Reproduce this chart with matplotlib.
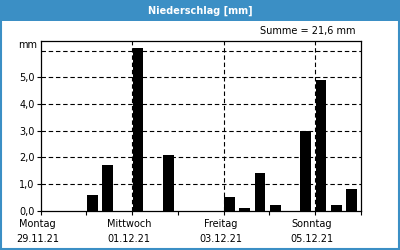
import matplotlib
matplotlib.use("Agg")
import matplotlib.pyplot as plt
from matplotlib.patches import Rectangle
import matplotlib.transforms as mtransforms

# Data: precipitation per 8-hour period (3 per day), 7 days
values = [0.0, 0.0, 0.0,   # Montag
          0.6, 1.7, 0.0,   # Dienstag
          6.1, 0.0, 2.1,   # Mittwoch
          0.0, 0.0, 0.0,   # Donnerstag
          0.5, 0.1, 1.4,   # Freitag
          0.2, 0.0, 3.0,   # Samstag
          4.9, 0.2, 0.8]   # Sonntag
day_names = ["Montag", "Mittwoch", "Freitag", "Sonntag"]
day_dates = ["29.11.21", "01.12.21", "03.12.21", "05.12.21"]
label_days = [0, 2, 4, 6]
ytick_vals = [0, 1, 2, 3, 4, 5]
ytick_labels = ["0,0", "1,0", "2,0", "3,0", "4,0", "5,0"]
title = "Niederschlag [mm]"
summe = "Summe = 21,6 mm"
periods_per_day = 3

blue = "#3b8fc5"
W, H = 400, 250
fig = plt.figure(figsize=(4, 2.5), dpi=100)
fig.patch.set_facecolor("white")

# title bar and frame
fig.patches.append(Rectangle((0, 1 - 20.5 / H), 1, 20.5 / H, transform=fig.transFigure,
                             facecolor=blue, edgecolor="none", zorder=0))
fig.patches.append(Rectangle((0.75 / W, 0.75 / H), 1 - 1.5 / W, 1 - 1.5 / H, transform=fig.transFigure,
                             facecolor="none", edgecolor=blue, linewidth=1.5, zorder=5))
fig.text(0.5, 1 - 10.5 / H, title, color="white", fontsize=7, fontweight="bold",
         ha="center", va="center")
fig.text(355 / W, 1 - 31 / H, summe, color="black", fontsize=7, ha="right", va="center")

ax = fig.add_axes([40.7 / W, 1 - 210.7 / H, 320 / W, 170 / H])
n = len(values)
x = [i + 0.04 for i in range(n)]
ax.bar(x, values, width=0.7, align="edge", color="black", zorder=3)
ax.set_xlim(0, n)
ax.set_ylim(0, 6.37)

dash = (0, (4, 2.5))
for yv in [1, 2, 3, 4, 5, 6]:
    ax.axhline(yv, color="black", linewidth=0.8, linestyle=dash, zorder=1)
for d in [2, 4, 6]:
    ax.axvline(d * periods_per_day, color="black", linewidth=0.8, linestyle=dash, zorder=1)

ax.set_yticks(ytick_vals)
ax.set_yticklabels(ytick_labels, fontsize=7)
ax.set_xticks([d * periods_per_day for d in range(8)])
ax.set_xticklabels([])
ax.tick_params(axis="both", length=3, width=0.8, pad=1.5, colors="black")
for s in ax.spines.values():
    s.set_linewidth(0.9)
    s.set_color("black")

ax.text(-0.25, 6.2, "mm", fontsize=7, ha="right", va="center",
        transform=ax.transData)

trans = mtransforms.blended_transform_factory(ax.transData, fig.transFigure)
for d, nm, dt in zip(label_days, day_names, day_dates):
    xc = d * periods_per_day - 0.2
    ax.text(xc, 1 - 224 / H, nm, fontsize=7, ha="center", va="center", transform=trans)
    ax.text(xc, 1 - 239 / H, dt, fontsize=7, ha="center", va="center", transform=trans)

fig.savefig("out.png", dpi=100)
